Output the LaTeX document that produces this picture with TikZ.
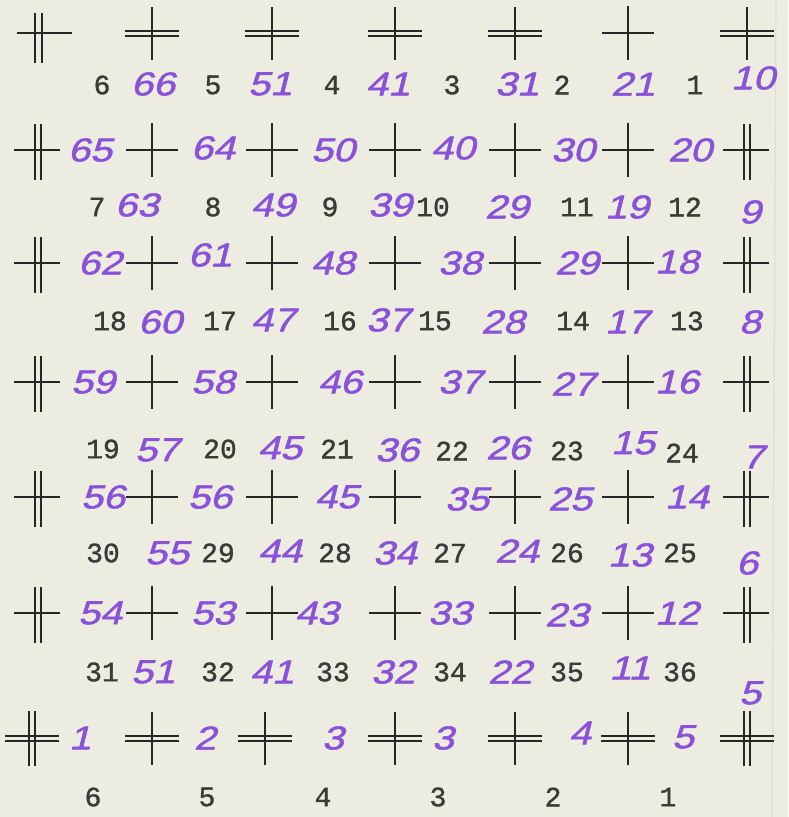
\documentclass[tikz,border=0pt]{standalone}
\usepackage{fontspec}
\newfontfamily\typedfont[FakeBold=1.2]{Liberation Mono}
\newfontfamily\handfont[FakeSlant=0.25,FakeStretch=1.2,FakeBold=1.6]{Liberation Sans}
\definecolor{paper}{RGB}{236,237,224}
\definecolor{ink}{RGB}{138,82,218}
\definecolor{typed}{RGB}{58,58,56}
\definecolor{cross}{RGB}{38,38,36}
\definecolor{crease}{RGB}{222,223,210}
\tikzset{
  typedtxt/.style={font=\typedfont\fontsize{28}{30}\selectfont, text=typed, inner sep=0pt},
  handtxt/.style={font=\handfont\fontsize{33}{35}\selectfont, text=ink, inner sep=0pt},
  crossline/.style={draw=cross, line width=2pt},
  xs/.pic={\draw[crossline] (-26,0)--(26,0); \draw[crossline] (0,-27)--(0,27);},
  xdv/.pic={\draw[crossline] (-24,0)--(22,0); \draw[crossline] (-3,-26)--(-3,30); \draw[crossline] (3,-26)--(3,30);},
  xdh/.pic={\draw[crossline] (-27,-2.5)--(27,-2.5); \draw[crossline] (-27,2.5)--(27,2.5); \draw[crossline] (0,-26)--(0,27);},
  xdd/.pic={\draw[crossline] (-27,-2.5)--(27,-2.5); \draw[crossline] (-27,2.5)--(27,2.5); \draw[crossline] (-3,-27)--(-3,28); \draw[crossline] (3,-27)--(3,28);},
}
\begin{document}
\begin{tikzpicture}[x=1pt,y=-1pt]
\useasboundingbox (0,0) rectangle (788,817);
\fill[paper] (0,0) rectangle (788,817);
\draw[crease, line width=1.2pt] (776,0) -- (772,817);

% crosses: row 1
\draw[crossline] (17,33) -- (72,33);
\draw[crossline] (35,13) -- (35,63);
\draw[crossline] (42,13) -- (42,63);
\pic at (152,33) {xdh};
\pic at (272,33) {xdh};
\pic at (395,33) {xdh};
\pic at (515,33) {xdh};
\pic at (628,33) {xs};
\pic at (747,33) {xdh};
% rows 2-6
\foreach \yy in {150,263,382,497,613} {
  \pic at (38,\yy) {xdv};
  \foreach \xx in {152,272,395,515,628} { \pic at (\xx,\yy) {xs}; }
  \pic at (747,\yy) {xdv};
}
% row 7
\pic at (32,738) {xdd};
\foreach \xx in {152,265,395,515,628} { \pic at (\xx,738) {xdh}; }
\pic at (747,738) {xdd};

% typed numbers
\foreach \n/\x/\y [count=\i] in {
 6/102/85, 5/213/85, 4/332/85, 3/452/85, 2/562/85, 1/695/85,
 7/97/207, 8/213/207, 9/330/207, 10/433/207, 11/577/207, 12/685/207,
 18/110/321, 17/220/321, 16/340/321, 15/435/321, 14/573/321, 13/687/321,
 19/103/449, 20/220/449, 21/337/449, 22/452/451, 23/567/451, 24/682/453,
 30/103/553, 29/218/553, 28/335/553, 27/450/553, 26/567/553, 25/680/553,
 31/102/672, 32/218/672, 33/333/672, 34/450/672, 35/567/672, 36/680/672,
 6/93/797, 5/207/797, 4/323/797, 3/438/797, 2/553/797, 1/668/797}
 { \node[typedtxt] (ty\i) at (\x,\y) {\n}; }

% handwritten numbers
\foreach \n/\x/\y [count=\i] in {
 66/153/84, 51/270/84, 41/388/84, 31/517/84, 21/633/84, 10/753/78,
 65/90/150, 64/213/148, 50/333/150, 40/453/148, 30/573/150, 20/690/150,
 63/137/205, 49/273/205, 39/390/205, 29/507/207, 19/627/207, 9/750/212,
 62/100/263, 61/210/255, 48/333/263, 38/460/263, 29/577/263, 18/677/262,
 60/160/322, 47/273/320, 37/388/320, 28/503/322, 17/627/322, 8/750/322,
 59/93/382, 58/213/382, 46/340/382, 37/460/382, 27/573/384, 16/677/382,
 57/157/450, 45/280/448, 36/397/450, 26/508/448, 15/633/443, 7/753/457,
 56/103/497, 56/210/497, 45/337/497, 35/467/499, 25/570/499, 14/687/497,
 55/167/553, 44/280/551, 34/395/553, 24/517/551, 13/630/555, 6/747/563,
 54/100/613, 53/213/613, 43/317/613, 33/450/613, 23/567/615, 12/677/613,
 51/153/672, 41/272/672, 32/393/672, 22/510/672, 11/630/668, 5/750/693,
 1/80/738, 2/205/738, 3/333/738, 3/443/738, 4/580/733, 5/683/737}
 { \node[handtxt] (hw\i) at (\x,\y) {\n}; }
\end{tikzpicture}
\end{document}
